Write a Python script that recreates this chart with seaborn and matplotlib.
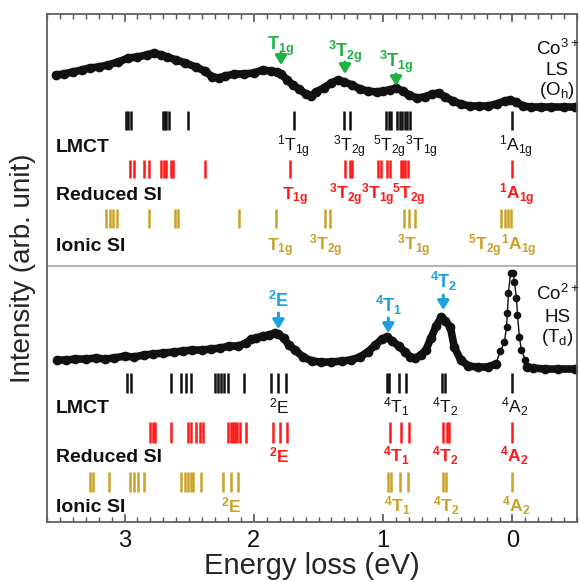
import numpy as np
import pandas as pd
import matplotlib
matplotlib.use("Agg")
import matplotlib.pyplot as plt
from matplotlib.ticker import MultipleLocator
import seaborn as sns

# ---- spectra (energy loss in eV, intensity in arb. units)
co3_energy = [3.53, 3.47, 3.40, 3.33, 3.27, 3.20, 3.13, 3.05, 2.97, 2.90, 2.83, 2.77,
              2.72, 2.67, 2.60, 2.53, 2.45, 2.38, 2.32, 2.27, 2.22, 2.15, 2.08, 2.00,
              1.93, 1.87, 1.82, 1.79, 1.74, 1.70, 1.65, 1.60, 1.56, 1.52, 1.46, 1.40,
              1.35, 1.30, 1.24, 1.18, 1.12, 1.05, 1.00, 0.95, 0.90, 0.85, 0.80, 0.74,
              0.68, 0.62, 0.57, 0.52, 0.46, 0.40, 0.33, 0.26, 0.19, 0.12, 0.06, 0.02,
              -0.03, -0.08, -0.14, -0.22, -0.30, -0.40, -0.48]
co3_intensity = [4.47, 4.48, 4.50, 4.52, 4.54, 4.55, 4.57, 4.60, 4.64, 4.65, 4.67, 4.69,
                 4.67, 4.65, 4.62, 4.59, 4.55, 4.51, 4.45, 4.44, 4.46, 4.48, 4.48, 4.49,
                 4.52, 4.51, 4.50, 4.48, 4.42, 4.37, 4.33, 4.28, 4.26, 4.30, 4.34, 4.39,
                 4.42, 4.40, 4.37, 4.33, 4.31, 4.30, 4.31, 4.32, 4.34, 4.31, 4.27, 4.24,
                 4.25, 4.28, 4.29, 4.25, 4.21, 4.18, 4.16, 4.16, 4.16, 4.18, 4.21, 4.22,
                 4.20, 4.16, 4.15, 4.15, 4.15, 4.15, 4.15]

co2_energy = [3.52, 3.45, 3.38, 3.30, 3.22, 3.15, 3.08, 3.00, 2.93, 2.85, 2.78, 2.70,
              2.62, 2.55, 2.48, 2.40, 2.33, 2.26, 2.19, 2.12, 2.06, 2.02, 1.98, 1.93,
              1.88, 1.84, 1.81, 1.77, 1.73, 1.68, 1.62, 1.55, 1.48, 1.40, 1.32, 1.25,
              1.18, 1.12, 1.06, 1.01, 0.97, 0.93, 0.88, 0.83, 0.79, 0.75, 0.71, 0.67,
              0.63, 0.59, 0.55, 0.52, 0.48, 0.45, 0.40, 0.34, 0.27, 0.19, 0.13,
              0.093, 0.062, 0.046, 0.039, 0.031, 0.015, -0.008, -0.015, -0.031,
              -0.039, -0.054, -0.069, -0.10, -0.116, -0.16, -0.25, -0.35, -0.48]
co2_intensity = [1.62, 1.62, 1.63, 1.63, 1.64, 1.63, 1.64, 1.66, 1.65, 1.67, 1.68, 1.69,
                 1.70, 1.71, 1.72, 1.72, 1.73, 1.74, 1.76, 1.76, 1.79, 1.83, 1.84, 1.86,
                 1.87, 1.89, 1.88, 1.84, 1.77, 1.72, 1.65, 1.61, 1.60, 1.60, 1.61, 1.62,
                 1.65, 1.70, 1.77, 1.83, 1.85, 1.81, 1.76, 1.70, 1.65, 1.64, 1.67, 1.72,
                 1.84, 1.96, 2.05, 2.01, 1.95, 1.75, 1.62, 1.56, 1.55, 1.55, 1.58,
                 1.71, 1.80, 1.95, 2.09, 2.29, 2.49, 2.49, 2.40, 2.24,
                 2.07, 1.85, 1.72, 1.62, 1.55, 1.54, 1.53, 1.53, 1.53]

# ---- calculated transitions (eV)
co3_lmct = [2.99, 2.97, 2.95, 2.70, 2.69, 2.68, 2.66, 2.51, 1.69, 1.30, 1.26,
            0.976, 0.955, 0.937, 0.891, 0.872, 0.854, 0.833, 0.813, 0.795, 0.0]
co3_reduced = [2.96, 2.93, 2.85, 2.81, 2.716, 2.695, 2.677, 2.643, 2.625, 2.38, 1.72,
               1.293, 1.259, 1.239, 1.04, 1.014, 0.970, 0.950, 0.86, 0.845, 0.83, 0.81, 0.0]
co3_ionic = [3.14, 3.11, 3.09, 3.06, 2.81, 2.607, 2.586, 2.117, 1.826, 1.452, 1.413,
             0.841, 0.80, 0.756, 0.087, 0.060, 0.035, 0.009]

co2_lmct = [2.978, 2.952, 2.643, 2.561, 2.522, 2.484, 2.303, 2.277, 2.256, 2.233, 2.20,
            2.076, 1.870, 1.813, 1.749, 0.970, 0.955, 0.878, 0.826, 0.545, 0.520, 0.0]
co2_reduced = [2.806, 2.78, 2.765, 2.638, 2.509, 2.484, 2.445, 2.419, 2.393, 2.20, 2.179,
               2.161, 2.148, 2.128, 2.109, 2.058, 1.852, 1.80, 1.741, 0.945, 0.86, 0.80,
               0.537, 0.505, 0.49, 0.0]
co2_ionic = [3.27, 3.244, 3.12, 2.96, 2.927, 2.896, 2.852, 2.561, 2.535, 2.509, 2.488,
             2.47, 2.406, 2.238, 2.179, 2.122, 0.963, 0.937, 0.868, 0.808, 0.537, 0.512, 0.0]

# ---- state labels (superscript, symbol, subscript, energy)
co3_lmct_labels = [("1", "T", "1g", 1.69), ("3", "T", "2g", 1.26), ("5", "T", "2g", 0.95),
                   ("3", "T", "1g", 0.70), ("1", "A", "1g", -0.03)]
co3_reduced_labels = [("", "T", "1g", 1.68), ("3", "T", "2g", 1.29), ("3", "T", "1g", 1.045),
                      ("5", "T", "2g", 0.80), ("1", "A", "1g", -0.035)]
co3_ionic_labels = [("", "T", "1g", 1.80), ("3", "T", "2g", 1.447), ("3", "T", "1g", 0.764),
                    ("5", "T", "2g", 0.215), ("1", "A", "1g", -0.05)]
co2_lmct_labels = [("2", "E", "", 1.805), ("4", "T", "1", 0.898), ("4", "T", "2", 0.524),
                   ("4", "A", "2", -0.017)]
co2_reduced_labels = [("2", "E", "", 1.805), ("4", "T", "1", 0.898), ("4", "T", "2", 0.52),
                      ("4", "A", "2", -0.017)]
co2_ionic_labels = [("2", "E", "", 2.176), ("4", "T", "1", 0.89), ("4", "T", "2", 0.51),
                    ("4", "A", "2", -0.03)]

# ---- arrows on the spectra (superscript, symbol, subscript, energy)
co3_arrows = [("", "T", "1g", 1.79), ("3", "T", "2g", 1.295), ("3", "T", "1g", 0.90)]
co2_arrows = [("2", "E", "", 1.81), ("4", "T", "1", 0.96), ("4", "T", "2", 0.535)]

BLACK = "#111111"
RED = "#FF1A1A"
GOLD = "#C9A227"
GREEN = "#1FB043"
BLUE = "#1BA1E2"


def term(sup, base, sub):
    s = r"\mathregular{"
    if sup:
        s += "^{%s}" % sup
    s += base
    if sub:
        s += "_{%s}" % sub
    return "$" + s + "}$"


sns.set_theme(style="ticks")
plt.rcParams["font.family"] = ["Liberation Sans", "DejaVu Sans"]
plt.rcParams["mathtext.fontset"] = "custom"
plt.rcParams["mathtext.rm"] = "Liberation Sans"
plt.rcParams["mathtext.bf"] = "Liberation Sans:bold"

fig = plt.figure(figsize=(5.8, 5.82), dpi=100)
ax = fig.add_axes([0.081, 0.103, 0.914, 0.873])

# spectra
co3 = pd.DataFrame({"energy": co3_energy, "intensity": co3_intensity})
sns.lineplot(data=co3, x="energy", y="intensity", ax=ax, color=BLACK, lw=5.5,
             marker="o", markersize=7, markeredgewidth=0, sort=False, estimator=None)

co2 = pd.DataFrame({"energy": co2_energy, "intensity": co2_intensity})
left = co2[co2["energy"] >= 0.13]
right = co2[co2["energy"] <= -0.116]
peak = co2[(co2["energy"] <= 0.13) & (co2["energy"] >= -0.116)]
for part in (left, right):
    sns.lineplot(data=part, x="energy", y="intensity", ax=ax, color=BLACK, lw=5.5,
                 marker="o", markersize=7, markeredgewidth=0, sort=False, estimator=None)
sns.lineplot(data=peak, x="energy", y="intensity", ax=ax, color=BLACK, lw=1.0,
             marker="o", markersize=5.5, markeredgewidth=0, sort=False, estimator=None)

# stick rows: positions, colour, band, labels, label baseline, row name, weight
rows = [
    (co3_lmct, BLACK, 3.92, 4.11, co3_lmct_labels, 3.70, "LMCT", "normal"),
    (co3_reduced, RED, 3.44, 3.62, co3_reduced_labels, 3.22, "Reduced SI", "bold"),
    (co3_ionic, GOLD, 2.94, 3.13, co3_ionic_labels, 2.71, "Ionic SI", "bold"),
    (co2_lmct, BLACK, 1.29, 1.49, co2_lmct_labels, 1.09, "LMCT", "normal"),
    (co2_reduced, RED, 0.79, 1.00, co2_reduced_labels, 0.60, "Reduced SI", "bold"),
    (co2_ionic, GOLD, 0.30, 0.50, co2_ionic_labels, 0.10, "Ionic SI", "bold"),
]
for pos, col, y0, y1, labels, yb, name, wt in rows:
    ax.vlines(pos, y0, y1, colors=col, lw=1.8)
    for sup, base, sub, e in labels:
        ax.text(e, yb, term(sup, base, sub), color=col, fontsize=12.5, fontweight=wt,
                ha="center", va="baseline")
    ax.text(3.53, yb, name, color=BLACK, fontsize=14, fontweight="bold",
            ha="left", va="baseline")

# arrows: tail, head, label baseline
co3_arrow_y = [(4.69, 4.57, 4.72), (4.60, 4.48, 4.65), (4.48, 4.36, 4.55)]
co2_arrow_y = [(2.09, 1.93, 2.15), (2.04, 1.89, 2.10), (2.27, 2.12, 2.34)]
for arrows, ys, col in ((co3_arrows, co3_arrow_y, GREEN), (co2_arrows, co2_arrow_y, BLUE)):
    for (sup, base, sub, e), (yt, yh, yl) in zip(arrows, ys):
        ax.annotate("", xy=(e, yh), xytext=(e, yt),
                    arrowprops=dict(arrowstyle="-|>,head_length=0.45,head_width=0.28",
                                    color=col, lw=2.2, shrinkA=0, shrinkB=0))
        ax.text(e, yl, term(sup, base, sub), color=col, fontsize=13, fontweight="bold",
                ha="center", va="baseline")

# ion labels
for txt, yb in ((r"Co$^{\mathregular{3+}}$", 4.67), ("LS", 4.47), (r"(O$_{\mathregular{h}}$)", 4.27)):
    ax.text(-0.345, yb, txt, fontsize=13.5, color=BLACK, ha="center", va="baseline")
for txt, yb in ((r"Co$^{\mathregular{2+}}$", 2.22), ("HS", 2.00), (r"(T$_{\mathregular{d}}$)", 1.80)):
    ax.text(-0.35, yb, txt, fontsize=13.5, color=BLACK, ha="center", va="baseline")

# panel divider
ax.axhline(2.56, color="#b5b5b5", lw=1.5)

ax.set_xlim(3.6, -0.5)
ax.set_ylim(0, 5.08)
ax.xaxis.set_major_locator(MultipleLocator(1))
ax.xaxis.set_minor_locator(MultipleLocator(0.1))
ax.tick_params(axis="x", which="both", direction="in", top=True, bottom=True,
               colors="#555555", labelcolor=BLACK, labelsize=17, pad=6)
ax.tick_params(axis="x", which="major", length=6, width=1.2)
ax.tick_params(axis="x", which="minor", length=3.5, width=1.0)
ax.set_yticks([])
for sp in ax.spines.values():
    sp.set_color("#606060")
    sp.set_linewidth(1.3)
ax.set_xlabel("Energy loss (eV)", fontsize=21, labelpad=0)
ax.set_ylabel("Intensity (arb. unit)", fontsize=20, labelpad=8)

fig.savefig("out.png", dpi=100)
